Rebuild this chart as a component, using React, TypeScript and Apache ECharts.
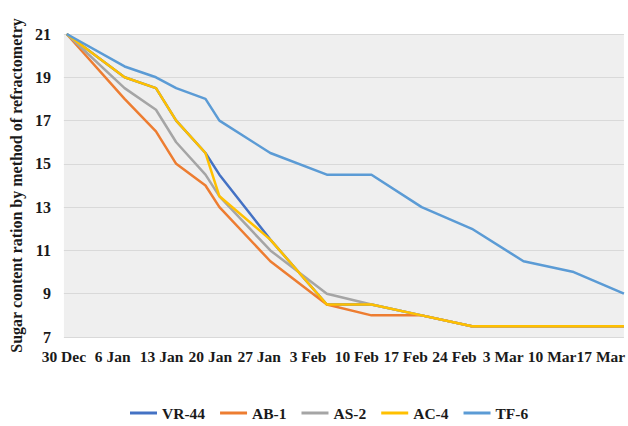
import React, { useEffect, useRef } from "react";
import * as echarts from "echarts";

// x tick labels, one per week starting at 30 Dec (day 0)
const tickLabels = ["30 Dec", "6 Jan", "13 Jan", "20 Jan", "27 Jan", "3 Feb", "10 Feb", "17 Feb", "24 Feb", "3 Mar", "10 Mar", "17 Mar"];
const sampleDays = [0.4, 8.7, 13.2, 16.1, 20.3, 22.3, 29.6, 37.7, 44.1, 51.3, 58.5, 65.9, 73.1, 80.3];

const vr44 = [21, 19, 18.5, 17, 15.5, 14.5, 11.5, 8.5, 8.5, 8, 7.5, 7.5, 7.5, 7.5];
const ab1 = [21, 18, 16.5, 15, 14, 13, 10.5, 8.5, 8, 8, 7.5, 7.5, 7.5, 7.5];
const as2 = [21, 18.5, 17.5, 16, 14.5, 13.5, 11, 9, 8.5, 8, 7.5, 7.5, 7.5, 7.5];
const ac4 = [21, 19, 18.5, 17, 15.5, 13.5, 11.5, 8.5, 8.5, 8, 7.5, 7.5, 7.5, 7.5];
const tf6 = [21, 19.5, 19, 18.5, 18, 17, 15.5, 14.5, 14.5, 13, 12, 10.5, 10, 9];

const seriesNames = ["VR-44", "AB-1", "AS-2", "AC-4", "TF-6"];
const seriesValues = [vr44, ab1, as2, ac4, tf6];
const seriesColors = ["#4472C4", "#ED7D31", "#A5A5A5", "#FFC000", "#5B9BD5"];

const FONT = "'Liberation Serif', 'Times New Roman', serif";

export default function App() {
  const ref = useRef<HTMLDivElement>(null);
  useEffect(() => {
    if (!ref.current) return;
    const chart = echarts.init(ref.current, null, { renderer: "svg" });
    chart.setOption({
      animation: false,
      backgroundColor: "#ffffff",
      grid: {
        left: 58,
        right: 0,
        top: 34,
        bottom: 89,
        show: true,
        backgroundColor: "#efefef",
        borderWidth: 0,
      },
      legend: {
        data: seriesNames,
        left: 125,
        top: 400,
        icon: "rect",
        itemWidth: 27,
        itemHeight: 3,
        itemGap: 15,
        textStyle: { fontFamily: FONT, fontWeight: "bold", fontSize: 15.5, color: "#1a1a1a" },
      },
      xAxis: {
        type: "value",
        min: 0,
        max: 80.3,
        interval: 7,
        axisLine: { show: false },
        axisTick: { show: false },
        splitLine: { show: false },
        axisLabel: {
          margin: 11,
          fontFamily: FONT,
          fontWeight: "bold",
          fontSize: 15.5,
          color: "#1a1a1a",
          showMaxLabel: false,
          formatter: (v: number) => {
            const i = Math.round(v / 7);
            return Math.abs(v - i * 7) < 1e-6 && i < tickLabels.length ? tickLabels[i] : "";
          },
        },
      },
      yAxis: {
        type: "value",
        min: 7,
        max: 21,
        interval: 2,
        name: "Sugar content ration by method of refractometry",
        nameLocation: "middle",
        nameRotate: 90,
        nameGap: 36,
        nameTextStyle: { fontFamily: FONT, fontWeight: "bold", fontSize: 16, color: "#1a1a1a" },
        axisLine: { show: false },
        axisTick: { show: false },
        splitLine: { lineStyle: { color: "#d9d9d9", width: 1 } },
        axisLabel: { margin: 13, fontFamily: FONT, fontWeight: "bold", fontSize: 16, color: "#1a1a1a" },
      },
      series: seriesNames.map((name, k) => ({
        name,
        type: "line",
        symbol: "none",
        color: seriesColors[k],
        lineStyle: { width: 2.5, color: seriesColors[k] },
        data: sampleDays.map((d, i) => [d, seriesValues[k][i]]),
      })),
    });
    return () => chart.dispose();
  }, []);
  return (
    <div
      ref={ref}
      style={{ position: "fixed", left: 0, top: 0, width: 628, height: 426 }}
    />
  );
}
